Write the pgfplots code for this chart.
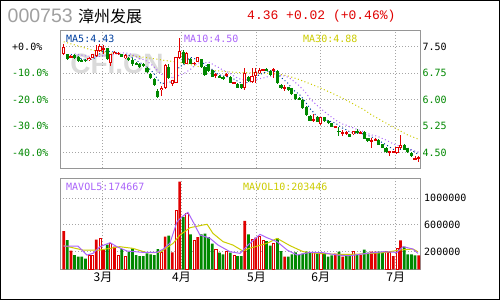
\documentclass[border=0pt]{standalone}
\usepackage{pgfplots}
\pgfplotsset{compat=1.18}
\usepackage{pgfplotstable}
\usepackage{fontspec}
\setmainfont{Liberation Sans}
\setmonofont{DejaVu Sans Mono}
\newfontfamily\cjk{Noto Sans CJK SC}
\newfontfamily\lmono{Liberation Mono}
\newfontfamily\lsans{Liberation Sans}
\definecolor{cred}{RGB}{224,0,0}
\definecolor{cgreen}{RGB}{0,136,0}
\definecolor{cma5}{RGB}{0,64,160}
\definecolor{cma10}{RGB}{170,100,250}
\definecolor{cma30}{RGB}{204,204,0}
\definecolor{cgrid}{RGB}{165,165,165}
\definecolor{cframe}{RGB}{150,150,150}
\definecolor{ctitle}{RGB}{160,160,160}
\definecolor{cwater}{RGB}{218,218,218}

\pgfplotstableread{
i o h l c u
0 7.30 7.57 7.26 7.50 1
1 7.28 7.30 7.12 7.14 0
2 7.19 7.26 7.17 7.24 1
3 7.26 7.28 7.15 7.17 0
4 7.21 7.23 7.08 7.09 0
5 7.13 7.15 7.06 7.08 0
6 7.13 7.15 7.08 7.10 0
7 7.11 7.20 7.09 7.19 1
8 7.19 7.30 7.17 7.28 1
9 7.24 7.55 7.21 7.42 1
10 7.38 7.58 7.35 7.53 1
11 7.40 7.55 7.30 7.45 1
12 7.45 7.47 7.13 7.14 0
13 7.05 7.30 6.95 7.28 1
14 7.30 7.38 7.28 7.36 1
15 7.29 7.35 7.26 7.33 1
16 7.28 7.30 7.20 7.21 0
17 7.17 7.28 7.15 7.26 1
18 7.19 7.22 7.10 7.11 0
19 7.11 7.19 6.95 7.00 0
20 7.05 7.07 6.97 6.98 0
21 7.02 7.04 6.90 6.92 0
22 7.01 7.03 6.92 6.94 0
23 6.89 6.92 6.76 6.78 0
24 6.74 6.76 6.58 6.60 0
25 6.58 6.60 6.40 6.42 0
26 6.26 6.30 6.04 6.08 0
27 6.27 6.39 6.10 6.34 1
28 6.34 7.00 6.30 6.98 1
29 6.92 7.00 6.58 6.62 0
30 6.45 6.56 6.40 6.55 1
31 6.48 7.22 6.46 7.21 1
32 7.17 7.74 7.14 7.38 1
33 7.36 7.40 7.02 7.05 0
34 7.02 7.35 7.00 7.33 1
35 7.14 7.18 7.00 7.02 0
36 7.00 7.06 6.98 7.05 1
37 7.08 7.22 7.06 7.21 1
38 7.14 7.16 6.90 6.92 0
39 6.92 6.95 6.68 6.70 0
40 7.00 7.02 6.79 6.81 0
41 6.83 6.85 6.63 6.64 0
42 6.69 6.76 6.62 6.72 1
43 6.67 6.69 6.62 6.63 0
44 6.65 6.67 6.57 6.58 0
45 6.70 6.76 6.65 6.72 1
46 6.64 6.66 6.47 6.48 0
47 6.46 6.51 6.44 6.50 1
48 6.45 6.47 6.33 6.34 0
49 6.43 6.45 6.31 6.32 0
50 6.32 6.90 6.27 6.75 1
51 6.65 6.68 6.51 6.53 0
52 6.49 6.91 6.47 6.68 1
53 6.68 6.91 6.46 6.79 1
54 6.75 6.91 6.72 6.84 1
55 6.82 6.88 6.80 6.87 1
56 6.87 6.90 6.80 6.81 0
57 6.82 6.84 6.68 6.70 0
58 6.83 6.91 6.61 6.87 1
59 6.81 6.83 6.45 6.46 0
60 6.42 6.44 6.31 6.32 0
61 6.32 6.42 6.25 6.37 1
62 6.35 6.37 6.26 6.27 0
63 6.32 6.34 6.13 6.15 0
64 6.15 6.17 6.00 6.01 0
65 6.06 6.08 5.98 5.99 0
66 5.99 6.01 5.74 5.76 0
67 5.80 5.82 5.55 5.57 0
68 5.55 5.57 5.39 5.40 0
69 5.40 5.59 5.36 5.45 1
70 5.52 5.54 5.37 5.38 0
71 5.31 5.52 5.27 5.50 1
72 5.50 5.52 5.38 5.40 0
73 5.41 5.43 5.31 5.33 0
74 5.33 5.35 5.22 5.24 0
75 5.22 5.26 5.20 5.25 1
76 5.12 5.24 4.97 5.08 0
77 5.05 5.14 4.97 5.08 1
78 5.05 5.12 5.00 5.09 1
79 5.02 5.04 4.94 4.95 0
80 5.02 5.11 5.00 5.10 1
81 5.12 5.16 5.03 5.05 0
82 5.05 5.12 5.03 5.09 1
83 5.09 5.10 4.88 4.89 0
84 4.91 4.93 4.81 4.82 0
85 4.82 4.91 4.64 4.86 1
86 4.84 4.91 4.82 4.88 1
87 4.86 4.88 4.72 4.73 0
88 4.74 4.76 4.63 4.64 0
89 4.64 4.66 4.50 4.51 0
90 4.51 4.55 4.40 4.55 1
91 4.51 4.56 4.49 4.55 1
92 4.49 4.66 4.47 4.65 1
93 4.64 5.00 4.60 4.72 1
94 4.72 4.74 4.57 4.58 0
95 4.62 4.64 4.50 4.51 0
96 4.50 4.52 4.39 4.40 0
97 4.32 4.42 4.28 4.34 1
98 4.34 4.40 4.25 4.36 1
}\candles

\pgfplotstableread{
i v
2 7.28
3 7.24
4 7.228
5 7.144
6 7.136
7 7.126
8 7.148
9 7.214
10 7.304
11 7.374
12 7.364
13 7.364
14 7.352
15 7.312
16 7.264
17 7.288
18 7.254
19 7.182
20 7.112
21 7.054
22 6.990
23 6.924
24 6.844
25 6.732
26 6.564
27 6.444
28 6.484
29 6.488
30 6.514
31 6.740
32 6.948
33 6.962
34 7.104
35 7.198
36 7.166
37 7.132
38 7.106
39 6.980
40 6.938
41 6.856
42 6.758
43 6.700
44 6.676
45 6.658
46 6.626
47 6.582
48 6.524
49 6.472
50 6.478
51 6.488
52 6.524
53 6.614
54 6.718
55 6.742
56 6.798
57 6.802
58 6.818
59 6.742
60 6.632
61 6.544
62 6.458
63 6.314
64 6.224
65 6.158
66 6.036
67 5.896
68 5.746
69 5.634
70 5.512
71 5.460
72 5.426
73 5.412
74 5.370
75 5.344
76 5.260
77 5.196
78 5.148
79 5.090
80 5.060
81 5.054
82 5.056
83 5.016
84 4.990
85 4.942
86 4.908
87 4.836
88 4.786
89 4.724
90 4.662
91 4.596
92 4.580
93 4.596
94 4.610
95 4.602
96 4.572
97 4.510
98 4.438
}\mafive

\pgfplotstableread{
i v
3 7.30
4 7.28
5 7.26
6 7.24
7 7.23
8 7.22
9 7.221
10 7.224
11 7.255
12 7.245
13 7.256
14 7.283
15 7.308
16 7.319
17 7.326
18 7.309
19 7.267
20 7.212
21 7.159
22 7.139
23 7.089
24 7.013
25 6.922
26 6.809
27 6.717
28 6.704
29 6.666
30 6.623
31 6.652
32 6.696
33 6.723
34 6.796
35 6.856
36 6.953
37 7.040
38 7.034
39 7.042
40 7.068
41 7.011
42 6.945
43 6.903
44 6.828
45 6.798
46 6.741
47 6.670
48 6.612
49 6.574
50 6.568
51 6.557
52 6.553
53 6.569
54 6.595
55 6.610
56 6.643
57 6.663
58 6.716
59 6.730
60 6.687
61 6.671
62 6.630
63 6.566
64 6.483
65 6.395
66 6.290
67 6.177
68 6.030
69 5.929
70 5.835
71 5.748
72 5.661
73 5.579
74 5.502
75 5.428
76 5.360
77 5.311
78 5.280
79 5.230
80 5.202
81 5.157
82 5.126
83 5.082
84 5.040
85 5.001
86 4.981
87 4.946
88 4.901
89 4.857
90 4.802
91 4.752
92 4.708
93 4.691
94 4.667
95 4.632
96 4.584
97 4.545
98 4.517
}\maten

\pgfplotstableread{
i v
0 7.64
4 7.52
8 7.40
11 7.35
16 7.28
23 7.19
28 7.11
33 7.04
38 6.92
42 6.82
48 6.77
55 6.75
59 6.73
62 6.67
65 6.57
68 6.45
70 6.37
72 6.28
74 6.19
78 5.99
83 5.71
85 5.57
90 5.28
95 5.00
98 4.88
}\mathirty

\pgfplotstableread{
i v s
0 510000 1
1 375000 0
2 215000 1
3 150000 0
4 125000 0
5 125000 0
6 95000 0
7 140000 2
8 150000 2
9 380000 1
10 395000 2
11 225000 1
12 305000 0
13 325000 2
14 275000 1
15 150000 2
16 240000 0
17 135000 2
18 200000 0
19 250000 0
20 150000 0
21 135000 0
22 135000 0
23 175000 0
24 160000 0
25 150000 0
26 240000 0
27 190000 2
28 425000 1
29 440000 0
30 190000 1
31 825000 2
32 1250000 1
33 720000 0
34 770000 2
35 460000 0
36 370000 2
37 420000 1
38 460000 0
39 470000 0
40 420000 0
41 320000 0
42 235000 2
43 185000 0
44 160000 0
45 200000 2
46 185000 0
47 145000 2
48 135000 0
49 135000 0
50 660000 1
51 460000 0
52 390000 2
53 410000 1
54 435000 2
55 375000 2
56 360000 0
57 290000 0
58 325000 2
59 400000 0
60 210000 0
61 125000 1
62 125000 0
63 160000 0
64 190000 0
65 150000 0
66 170000 0
67 200000 0
68 185000 0
69 185000 2
70 180000 0
71 185000 2
72 180000 0
73 125000 0
74 145000 0
75 170000 1
76 200000 0
77 125000 1
78 160000 0
79 150000 0
80 200000 2
81 160000 0
82 150000 1
83 230000 0
84 185000 0
85 200000 1
86 200000 1
87 200000 0
88 185000 0
89 200000 2
90 185000 2
91 135000 1
92 245000 2
93 370000 1
94 275000 0
95 160000 0
96 160000 0
97 145000 0
98 145000 1
}\volumes

\pgfplotstableread{
i v
0 285000
3.9 285000
6.4 150000
8.1 175000
10 275000
12.8 335000
14.7 275000
17.5 210000
21.9 190000
25.8 190000
27.5 240000
29.3 325000
31.3 650000
32.7 725000
34.3 790000
35.7 650000
37.6 450000
40.4 400000
42.6 300000
45.9 200000
48.7 175000
50.9 300000
54.2 460000
56.1 410000
58.9 350000
61.7 225000
64.4 150000
68 190000
71.6 185000
75.5 150000
79 140000
83.7 175000
88.2 200000
92 190000
93.7 275000
96.4 240000
97.8 175000
}\mavolfive

\pgfplotstableread{
i v
0 290000
5.3 225000
10 225000
12.8 250000
15.5 275000
19.1 250000
23 185000
26.6 190000
30.2 325000
32.1 450000
34.9 560000
38.5 600000
39.6 610000
41.2 475000
44 350000
46.7 300000
49.5 210000
51.2 250000
56.1 325000
58.9 400000
62.5 290000
66.1 200000
69.9 175000
75.5 160000
79 160000
83.7 170000
88.2 185000
92.9 225000
96.4 240000
97.8 200000
}\mavolten

\newcommand{\tickfont}{\ttfamily\fontsize{10pt}{10pt}\selectfont}

\begin{document}
\begin{tikzpicture}[x=1pt,y=1pt]
\path[use as bounding box] (0,0) rectangle (500,300);
\fill[white] (0,0) rectangle (500,300);

% watermark
\node[text=cwater, font=\lsans\bfseries\fontsize{28pt}{28pt}\selectfont, inner sep=0pt] at (117,236) {CFI.CN};

% price panel
\begin{axis}[
  at={(60pt,132pt)}, anchor=south west, scale only axis,
  width=360pt, height=137pt,
  xmin=-1.02, xmax=98.37, ymin=4.067, ymax=7.944,
  axis line style={draw=cframe, line width=1pt},
  major tick length=0pt,
  xtick={10.85,32.52,53.23,70.96,91.66}, xticklabels={,,,,},
  ytick={4.5,5.25,6,6.75,7.5},
  yticklabel pos=right,
  yticklabels={\textcolor{cgreen}{4.50},\textcolor{cgreen}{5.25},\textcolor{cgreen}{6.00},\textcolor{cgreen}{6.75},7.50},
  yticklabel style={anchor=west, inner sep=0pt, xshift=2.3pt, font=\tickfont},
  grid=major, major grid style={draw=cgrid, line width=1pt, dash pattern=on 1pt off 2pt},
]
\addplot[cma30, line width=1pt, dash pattern=on 1pt off 2.5pt, mark=none] table[x=i,y=v] {\mathirty};
\addplot[cma10, line width=1pt, dash pattern=on 1pt off 2.5pt, mark=none] table[x=i,y=v] {\maten};
\addplot[cma5, line width=1pt, dash pattern=on 1pt off 2.5pt, mark=none] table[x=i,y=v] {\mafive};
% down candles: wick + body
\addplot[draw=none, mark=none, restrict expr to domain={\thisrow{u}}{-0.5:0.5},
  error bars/.cd, y dir=both, y explicit, error mark=none,
  error bar style={draw=cgreen, solid, line width=1pt}]
  table[x=i, y expr={(\thisrow{h}+\thisrow{l})/2}, y error expr={(\thisrow{h}-\thisrow{l})/2}] {\candles};
\addplot[draw=none, mark=none, restrict expr to domain={\thisrow{u}}{-0.5:0.5},
  error bars/.cd, y dir=both, y explicit, error mark=none,
  error bar style={draw=cgreen, solid, line width=3.2pt}]
  table[x=i, y expr={(\thisrow{o}+\thisrow{c})/2}, y error expr={max(abs(\thisrow{c}-\thisrow{o})/2,0.016)}] {\candles};
% up candles: wick + hollow body
\addplot[draw=none, mark=none, restrict expr to domain={\thisrow{u}}{0.5:1.5},
  error bars/.cd, y dir=both, y explicit, error mark=none,
  error bar style={draw=cred, solid, line width=1pt}]
  table[x=i, y expr={(\thisrow{h}+\thisrow{l})/2}, y error expr={(\thisrow{h}-\thisrow{l})/2}] {\candles};
\addplot[draw=none, mark=none, restrict expr to domain={\thisrow{u}}{0.5:1.5},
  error bars/.cd, y dir=both, y explicit, error mark=none,
  error bar style={draw=cred, solid, line width=3.2pt}]
  table[x=i, y expr={(\thisrow{o}+\thisrow{c})/2}, y error expr={max(abs(\thisrow{c}-\thisrow{o})/2,0.016)}] {\candles};
\addplot[draw=none, mark=none, restrict expr to domain={\thisrow{u}}{0.5:1.5},
  error bars/.cd, y dir=both, y explicit, error mark=none,
  error bar style={draw=white, solid, line width=1.2pt}]
  table[x=i, y expr={(\thisrow{o}+\thisrow{c})/2}, y error expr={max(abs(\thisrow{c}-\thisrow{o})/2-0.028,0)}] {\candles};
\end{axis}

% left percentage labels
\begin{axis}[
  at={(60pt,132pt)}, anchor=south west, scale only axis,
  width=360pt, height=137pt,
  xmin=0, xmax=1, ymin=4.067, ymax=7.944,
  axis line style={draw=none}, major tick length=0pt,
  xtick=\empty,
  ytick={4.5,5.25,6,6.75,7.5},
  yticklabels={\textcolor{cgreen}{-40.0\%},\textcolor{cgreen}{-30.0\%},\textcolor{cgreen}{-20.0\%},\textcolor{cgreen}{-10.0\%},+0.0\%},
  yticklabel style={anchor=west, inner sep=0pt, xshift=-48pt, font=\tickfont},
]
\end{axis}

% volume panel
\begin{axis}[
  at={(60pt,30.7pt)}, anchor=south west, scale only axis,
  width=360pt, height=91pt,
  xmin=-1.02, xmax=98.37, ymin=0, ymax=1363300,
  axis line style={draw=cframe, line width=1pt},
  major tick length=0pt,
  scaled y ticks=false,
  xtick={10.85,32.52,53.23,70.96,91.66},
  xticklabels={3月,4月,5月,6月,7月},
  xticklabel style={anchor=center, inner sep=0pt, yshift=-7.7pt, font=\cjk\fontsize{12pt}{12pt}\selectfont},
  ytick={263700,663700,1063700},
  yticklabels={200000,600000,1000000},
  yticklabel pos=right,
  yticklabel style={anchor=west, inner sep=0pt, xshift=4pt, font=\tickfont},
  grid=major, major grid style={draw=cgrid, line width=1pt, dash pattern=on 1pt off 2pt},
]
\addplot[ybar, bar width=2.7pt, bar shift=0pt, draw=none, fill=cgreen,
  restrict expr to domain={\thisrow{s}}{-0.5:0.5}]
  table[x=i, y expr={\thisrow{v}+63700}] {\volumes};
\addplot[ybar, bar width=2.7pt, bar shift=0pt, draw=none, fill=cred,
  restrict expr to domain={\thisrow{s}}{0.5:1.5}]
  table[x=i, y expr={\thisrow{v}+63700}] {\volumes};
\addplot[ybar, bar width=2.1pt, bar shift=0pt, draw=cred, line width=0.7pt, fill=white,
  restrict expr to domain={\thisrow{s}}{1.5:2.5}]
  table[x=i, y expr={\thisrow{v}+63700}] {\volumes};
\addplot[cma30, line width=1pt, mark=none] table[x=i, y expr={\thisrow{v}+63700}] {\mavolten};
\addplot[cma10, line width=1pt, mark=none] table[x=i, y expr={\thisrow{v}+63700}] {\mavolfive};
\end{axis}

% titles and legends
\node[anchor=base west, inner sep=0pt, text=ctitle, font=\lsans\fontsize{19.5pt}{19.5pt}\selectfont] at (7.5,277.3) {000753};
\node[anchor=base west, inner sep=0pt, font=\cjk\fontsize{16pt}{16pt}\selectfont] at (78,277.3) {漳州发展};
\node[anchor=base west, inner sep=0pt, text=cred, font=\lmono\fontsize{13pt}{13pt}\selectfont] at (247,280.5) {4.36 +0.02 (+0.46\%)};
\node[anchor=base west, inner sep=0pt, text=cma5, font=\tickfont] at (66,257.7) {MA5:4.43};
\node[anchor=base west, inner sep=0pt, text=cma10, font=\tickfont] at (184,257.7) {MA10:4.50};
\node[anchor=base west, inner sep=0pt, text=cma30, font=\tickfont] at (303,257.7) {MA30:4.88};
\node[anchor=base west, inner sep=0pt, text=cma10, font=\tickfont] at (66,110) {MAVOL5:174667};
\node[anchor=base west, inner sep=0pt, text=cma30, font=\tickfont] at (243,110) {MAVOL10:203446};

\draw[black, line width=1pt] (0.5,0.5) rectangle (499.5,299.5);
\end{tikzpicture}
\end{document}
